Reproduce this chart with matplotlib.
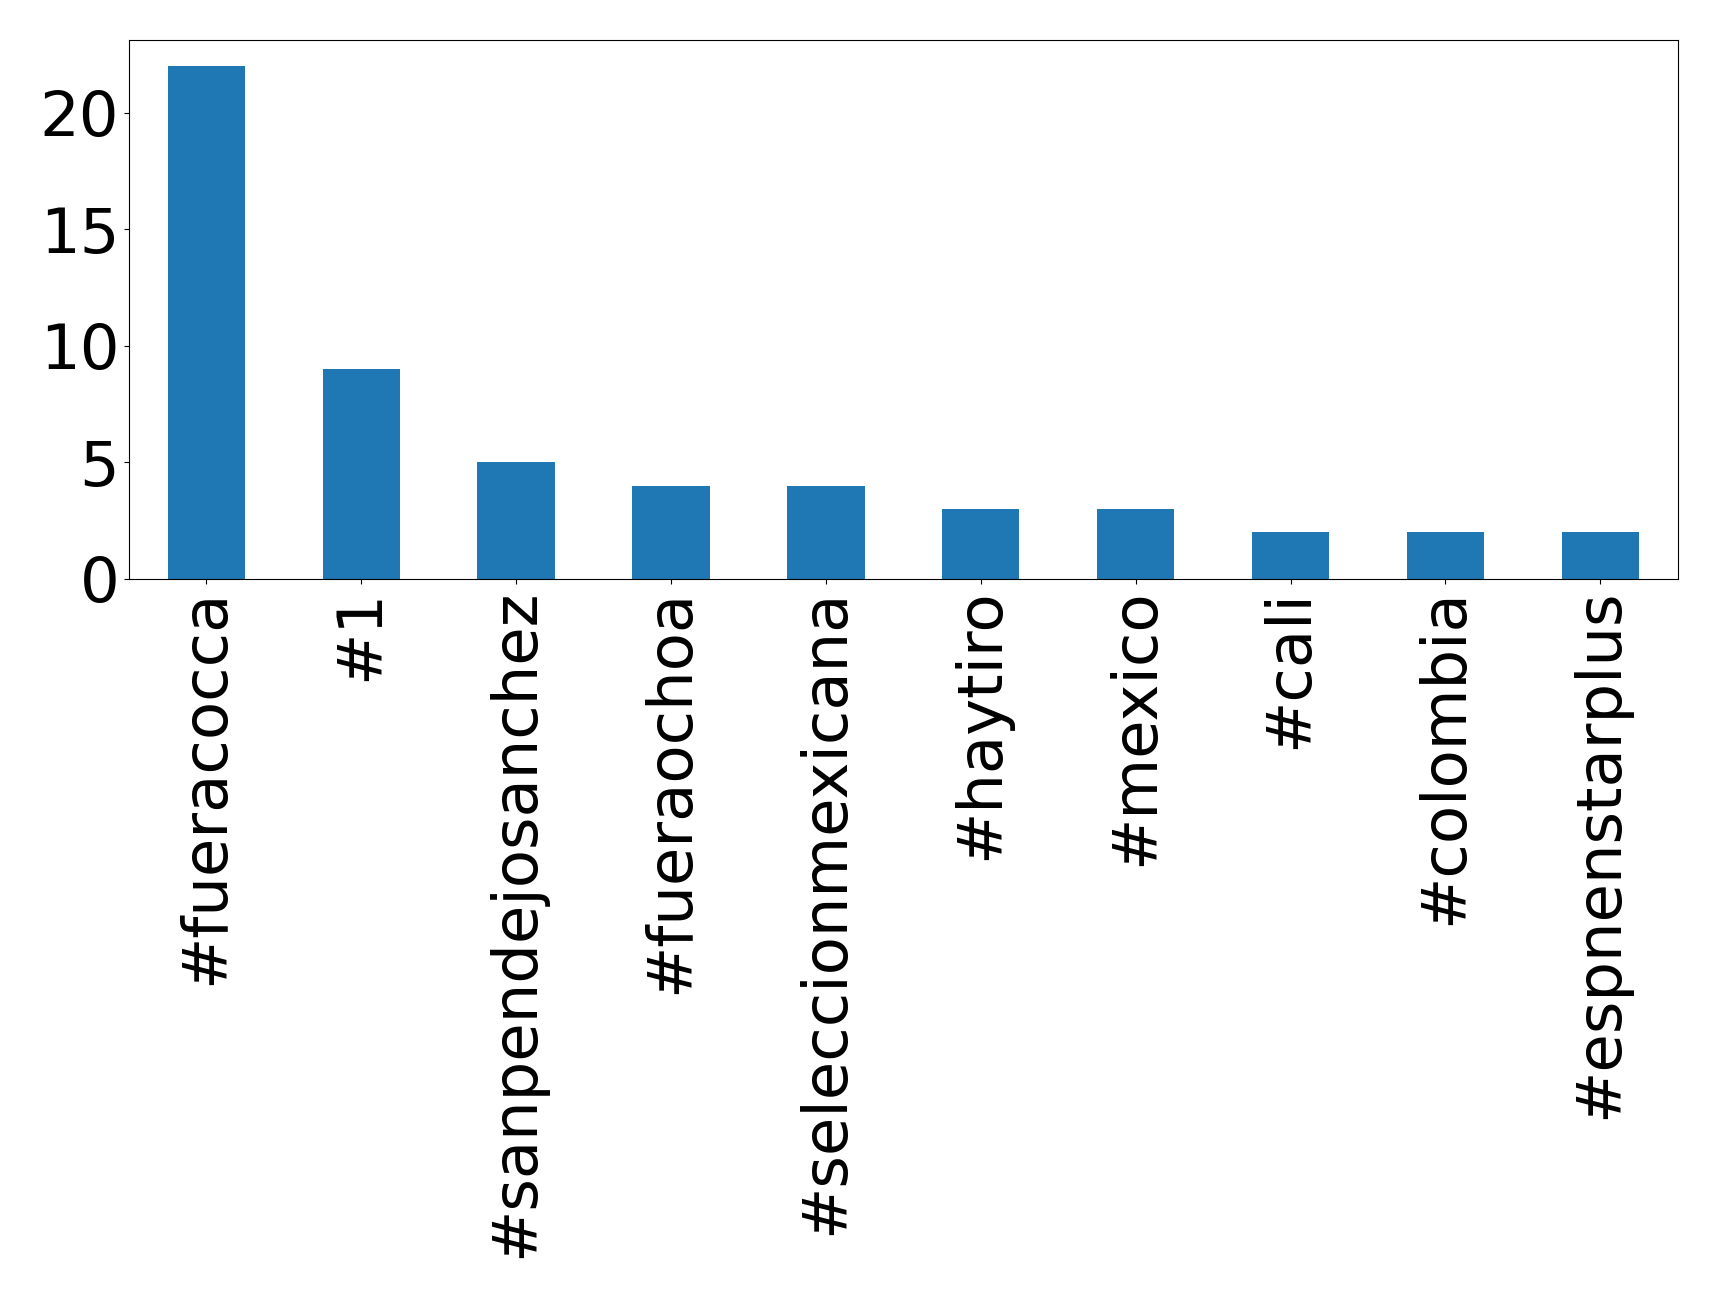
import matplotlib
matplotlib.use("Agg")
import matplotlib.pyplot as plt

hashtags = ['#fueracocca', '#1', '#sanpendejosanchez', '#fueraochoa',
            '#seleccionmexicana', '#haytiro', '#mexico', '#cali',
            '#colombia', '#espnenstarplus']
counts = [22, 9, 5, 4, 4, 3, 3, 2, 2, 2]

fig = plt.figure(figsize=(17.19, 12.98), dpi=100)
ax = fig.add_axes([0.075, 0.554, 0.901, 0.415])
x = range(len(hashtags))
ax.bar(x, counts, width=0.5, color='#1f77b4')
ax.set_xticks(list(x))
ax.set_xticklabels(hashtags, rotation=90, fontsize=45)
ax.tick_params(axis='y', labelsize=45)
ax.set_xlim(-0.5, len(hashtags) - 0.5)
ax.set_ylim(0, 23.1)
ax.set_yticks([0, 5, 10, 15, 20])

fig.savefig('out.png', dpi=100)
